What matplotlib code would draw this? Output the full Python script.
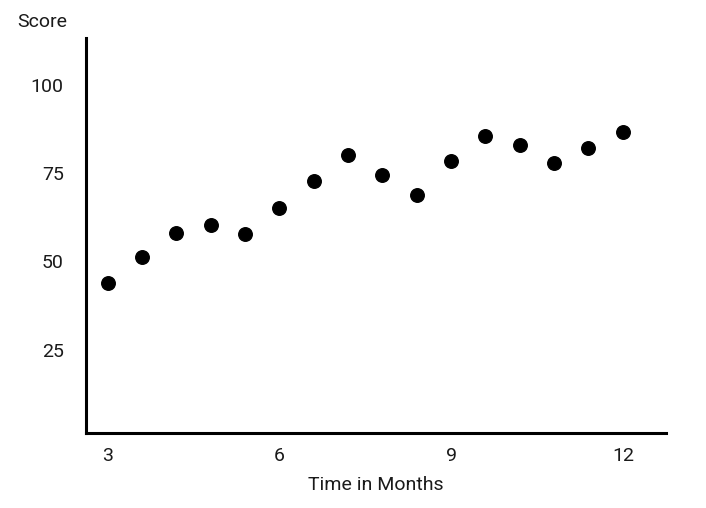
import matplotlib
matplotlib.use("Agg")
import matplotlib.pyplot as plt

months = [3.0, 3.6, 4.2, 4.8, 5.4, 6.0, 6.6, 7.2, 7.8, 8.4, 9.0, 9.6, 10.2, 10.8, 11.4, 12.0]
scores = [44.0, 51.3, 58.1, 60.4, 57.8, 65.2, 72.8, 80.2, 74.6, 68.9, 78.5, 85.6, 83.0, 77.9, 82.2, 86.7]
x_ticks = [3, 6, 9, 12]
y_ticks = [25, 50, 75, 100]

plt.rcParams['font.family'] = ['Roboto', 'DejaVu Sans']

fig = plt.figure(figsize=(7.06, 5.08), dpi=100)
ax = fig.add_axes([0.1218, 0.1476, 0.8212, 0.7774])

ax.scatter(months, scores, s=95, color='black', zorder=3)

ax.set_xlim(2.62, 12.75)
ax.set_ylim(1.4, 113.3)
ax.set_xticks(x_ticks)
ax.set_yticks(y_ticks)
ax.tick_params(length=0, labelsize=14, colors='#1a1a1a')
ax.tick_params(axis='y', pad=16)
ax.tick_params(axis='x', pad=10)

for side in ['top', 'right']:
    ax.spines[side].set_visible(False)
for side in ['left', 'bottom']:
    ax.spines[side].set_linewidth(2.2)

ax.set_xlabel('Time in Months', fontsize=14, color='#1a1a1a', labelpad=8)
fig.text(0.024, 0.957, 'Score', fontsize=14, color='#1a1a1a', va='center')

fig.savefig('out.png', dpi=100)
